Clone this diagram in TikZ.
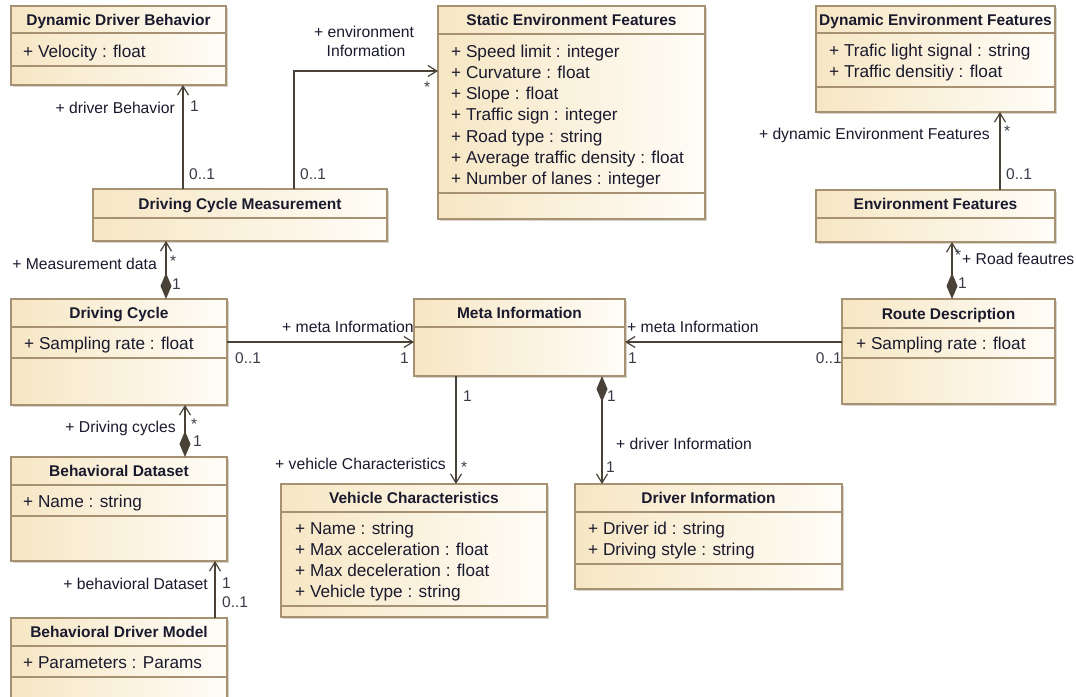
\documentclass[tikz,border=0pt]{standalone}
\usepackage{fontspec}
\setmainfont{Liberation Sans}
\usetikzlibrary{arrows.meta,fit}
\definecolor{boxL}{HTML}{F6E6C3}
\definecolor{boxR}{HTML}{FFFDF8}
\definecolor{boxBorder}{HTML}{A69272}
\definecolor{conn}{HTML}{4B4237}
\definecolor{txt}{HTML}{1A1A2E}
\definecolor{mult}{HTML}{3B3B48}
\definecolor{shadowc}{HTML}{D9D4CB}

\tikzset{
  cbox/.style={draw=boxBorder, line width=1.3pt, left color=boxL, right color=boxR, inner sep=0pt, outer sep=0pt, rectangle},
  cdiv/.style={draw=boxBorder, line width=1.3pt},
  cshadow/.style={fill=shadowc},
  ctitle/.style={font=\fontsize{15.5}{18}\selectfont\bfseries, text=txt, inner sep=0pt, anchor=base},
  cattr/.style={font=\fontsize{17.2}{20}\selectfont, text=txt, inner sep=0pt, anchor=base west},
  role/.style={font=\fontsize{15.7}{18}\selectfont, text=txt, inner sep=0pt},
  mul/.style={font=\fontsize{15.5}{18}\selectfont, text=mult, inner sep=0pt},
  assoc/.style={draw=conn, line width=1.2pt, -{Straight Barb[length=9pt,width=11pt]}},
  compo/.style={draw=conn, line width=1.2pt, {Diamond[length=26pt,width=11pt,fill=conn]}-{Straight Barb[length=9pt,width=11pt]}},
}

% name, x1, y1, x2, y2, header divider y, title
\newcommand{\umlclass}[7]{%
  \fill[cshadow] ({#2+2},{#3+2}) rectangle ({#4+2},{#5+2});
  \node[cbox, fit={(#2,#3) (#4,#5)}] (#1) {};
  \draw[cdiv] (#1.west |- 0,#6) -- (#1.east |- 0,#6);
  \node[ctitle] (#1-title) at ({(#2+#4)/2},{(#3+#6)/2+5.5}) {#7};
}
% name, divider y
\newcommand{\umlsep}[2]{\draw[cdiv] (#1.west |- 0,#2) -- (#1.east |- 0,#2);}
% name, x, first baseline, list
\newcommand{\umlattrs}[4]{%
  \foreach \atxt [count=\i] in {#4} {
    \node[cattr] (#1-attr\i) at (#2, {#3+(\i-1)*21.3}) {\atxt};
  }
}

\begin{document}
\begin{tikzpicture}[x=1pt, y=-1pt]
\useasboundingbox (0,0) rectangle (1076,696);
\clip (0,0) rectangle (1076,696);
\fill[white] (0,0) rectangle (1076,696);

% ---------- classes ----------
\umlclass{ddb}{11}{6}{226}{85}{33}{Dynamic Driver Behavior}
\umlsep{ddb}{66}
\umlattrs{ddb}{23}{57.5}{+ Velocity : float}

\umlclass{sef}{438}{6}{705}{219}{34}{Static Environment Features}
\umlsep{sef}{193}
\umlattrs{sef}{451}{57}{+ Speed limit : integer, + Curvature : float, + Slope : float, + Traffic sign : integer, + Road type : string, + Average traffic density : float, + Number of lanes : integer}

\umlclass{def}{816}{6}{1055}{112}{33}{Dynamic Environment Features}
\umlsep{def}{87}
\umlattrs{def}{829}{56.5}{+ Trafic light signal : string, + Traffic densitiy : float}

\umlclass{dcm}{93}{189}{387}{241}{218}{Driving Cycle Measurement}

\umlclass{ef}{816}{190}{1055}{242}{218}{Environment Features}

\umlclass{dc}{11}{299}{227}{405}{327}{Driving Cycle}
\umlsep{dc}{358}
\umlattrs{dc}{24}{349}{+ Sampling rate : float}

\umlclass{mi}{414}{299}{625}{376}{327}{Meta Information}

\umlclass{rd}{842}{299}{1055}{404}{328}{Route Description}
\umlsep{rd}{358}
\umlattrs{rd}{856}{349}{+ Sampling rate : float}

\umlclass{bd}{11}{457}{227}{561}{485}{Behavioral Dataset}
\umlsep{bd}{516}
\umlattrs{bd}{23}{507}{+ Name : string}

\umlclass{vc}{281}{484}{547}{617}{512}{Vehicle Characteristics}
\umlsep{vc}{606}
\umlattrs{vc}{295}{534}{+ Name : string, + Max acceleration : float, + Max deceleration : float, + Vehicle type : string}

\umlclass{di}{575}{484}{842}{589}{512}{Driver Information}
\umlsep{di}{564}
\umlattrs{di}{588}{534}{+ Driver id : string, + Driving style : string}

\umlclass{bdm}{11}{618}{227}{705}{646}{Behavioral Driver Model}
\umlsep{bdm}{677}
\umlattrs{bdm}{23}{668}{+ Parameters : Params}

% ---------- connectors ----------
\draw[assoc] (183,0 |- dcm.north) -- (183,0 |- ddb.south);
\draw[assoc] (294,0 |- dcm.north) |- (sef.west |- 0,71);
\draw[assoc] (1000,0 |- ef.north) -- (1000,0 |- def.south);
\draw[compo] (166,0 |- dc.north) -- (166,0 |- dcm.south);
\draw[assoc] (dc.east |- 0,342) -- (mi.west |- 0,342);
\draw[assoc] (rd.west |- 0,342) -- (mi.east |- 0,342);
\draw[compo] (952,0 |- rd.north) -- (952,0 |- ef.south);
\draw[assoc] (456,0 |- mi.south) -- (456,0 |- vc.north);
\draw[compo] (602,0 |- mi.south) -- (602,0 |- di.north);
\draw[compo] (185,0 |- bd.north) -- (185,0 |- dc.south);
\draw[assoc] (215,0 |- bdm.north) -- (215,0 |- bd.south);

% ---------- labels ----------
% DCM -> DDB
\node[role, anchor=base east] (l-drvb) at (175,113) {+ driver Behavior};
\node[mul, anchor=base west] (m-drvb1) at (190,111.5) {1};
\node[mul, anchor=base west] (m-drvb2) at (189,179) {0..1};
% DCM -> SEF
\node[role, anchor=base] (l-env1) at (364,37) {+ environment};
\node[role, anchor=base] (l-env2) at (366,56) {Information};
\node[mul, anchor=base west] (m-env1) at (424,92) {*};
\node[mul, anchor=base west] (m-env2) at (300,179) {0..1};
% EF -> DEF
\node[role, anchor=base east] (l-dyn) at (990,139) {+ dynamic Environment Features};
\node[mul, anchor=base west] (m-dyn1) at (1004,136) {*};
\node[mul, anchor=base west] (m-dyn2) at (1006,179) {0..1};
% DC -> DCM
\node[role, anchor=base east] (l-meas) at (157,269) {+ Measurement data};
\node[mul, anchor=base west] (m-meas1) at (170,266) {*};
\node[mul, anchor=base west] (m-meas2) at (172,289) {1};
% DC -> MI
\node[role, anchor=base west] (l-meta1) at (282,332.5) {+ meta Information};
\node[mul, anchor=base west] (m-meta1a) at (235,363.5) {0..1};
\node[mul, anchor=base west] (m-meta1b) at (400,363.5) {1};
% RD -> MI
\node[role, anchor=base west] (l-meta2) at (627,332.5) {+ meta Information};
\node[mul, anchor=base west] (m-meta2a) at (628,363.5) {1};
\node[mul, anchor=base east] (m-meta2b) at (842,363.5) {0..1};
% RD -> EF
\node[role, anchor=base west] (l-road) at (962,264.5) {+ Road feautres};
\node[mul, anchor=base west] (m-road1) at (955,260) {*};
\node[mul, anchor=base west] (m-road2) at (958,288) {1};
% MI -> VC
\node[role, anchor=base east] (l-veh) at (446,469) {+ vehicle Characteristics};
\node[mul, anchor=base west] (m-veh1) at (463,401) {1};
\node[mul, anchor=base west] (m-veh2) at (461,472) {*};
% MI -> DI
\node[role, anchor=base west] (l-drvi) at (616,449.5) {+ driver Information};
\node[mul, anchor=base west] (m-drvi1) at (607,401) {1};
\node[mul, anchor=base west] (m-drvi2) at (606,472.5) {1};
% BD -> DC
\node[role, anchor=base east] (l-cyc) at (176,432.5) {+ Driving cycles};
\node[mul, anchor=base west] (m-cyc1) at (191,429) {*};
\node[mul, anchor=base west] (m-cyc2) at (193,446) {1};
% BDM -> BD
\node[role, anchor=base east] (l-bds) at (208,589) {+ behavioral Dataset};
\node[mul, anchor=base west] (m-bds1) at (222,588) {1};
\node[mul, anchor=base west] (m-bds2) at (222,607.5) {0..1};
\end{tikzpicture}
\end{document}
